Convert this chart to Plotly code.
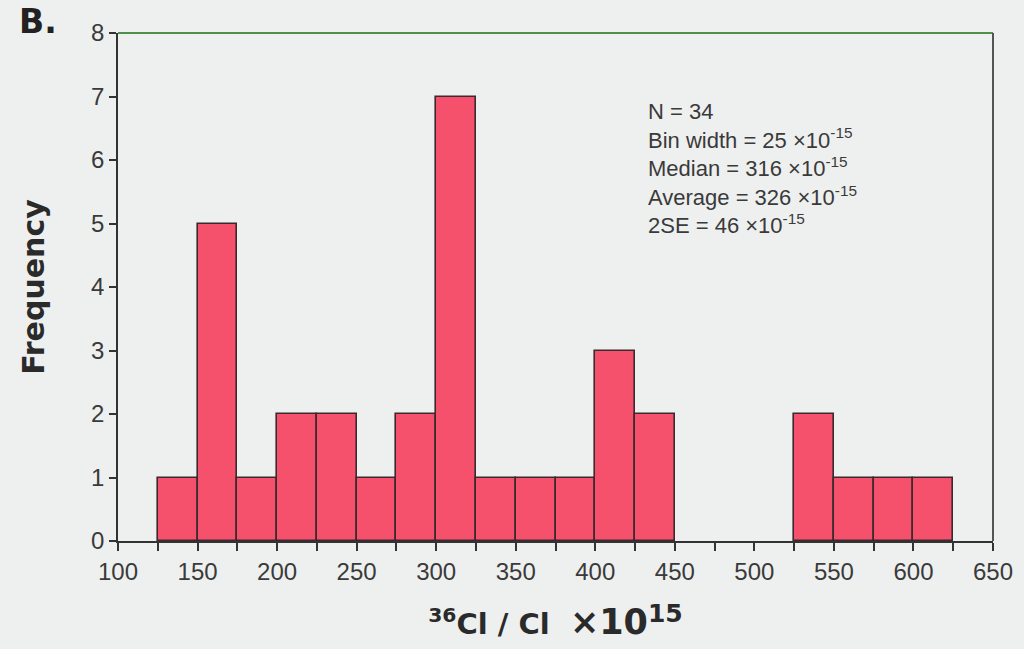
import plotly.graph_objects as go

# Histogram data (bin left edges, bin width 25, counts)
bin_starts = [125, 150, 175, 200, 225, 250, 275, 300, 325, 350, 375, 400, 425, 450, 475, 500, 525, 550, 575, 600]
counts     = [1,   5,   1,   2,   2,   1,   2,   7,   1,   1,   1,   3,   2,   0,   0,   0,   2,   1,   1,   1]
bin_width = 25

stats_lines = [
    "N = 34",
    "Bin width = 25 ×10<sup>-15</sup>",
    "Median = 316 ×10<sup>-15</sup>",
    "Average = 326 ×10<sup>-15</sup>",
    "2SE = 46 ×10<sup>-15</sup>",
]

bg = "#eef0ef"
axis_col = "#333333"

line_widths = [1.6 if c > 0 else 0 for c in counts]

fig = go.Figure()
fig.add_trace(go.Bar(
    x=bin_starts, y=counts, width=[bin_width] * len(bin_starts), offset=0,
    marker=dict(color="#f5506c", line=dict(color="#3a2a2e", width=line_widths)),
    hoverinfo="x+y",
))

annotations = [
    dict(text="<br>".join(stats_lines), xref="x", yref="y", x=432, y=7.0,
         xanchor="left", yanchor="top", align="left", showarrow=False,
         font=dict(family="Liberation Sans, Arial, sans-serif", size=22, color="#3a3a3a")),
    dict(text="<b>B.</b>", xref="paper", yref="paper", x=-0.115, y=1.022,
         xanchor="left", yanchor="middle", showarrow=False,
         font=dict(family="DejaVu Sans, sans-serif", size=33, color="#222222")),
]

fig.update_layout(
    width=1024, height=649,
    margin=dict(l=118, r=31, t=33, b=108),
    paper_bgcolor=bg, plot_bgcolor=bg,
    showlegend=False,
    bargap=0,
    font=dict(family="Liberation Sans, Arial, sans-serif", color=axis_col),
    xaxis=dict(
        range=[100, 650], dtick=50, tick0=100,
        ticks="outside", ticklen=8, tickwidth=1.5, tickcolor=axis_col,
        minor=dict(dtick=25, tick0=100, ticks="outside", ticklen=8, tickwidth=1.5, tickcolor=axis_col, showgrid=False),
        showline=True, linecolor=axis_col, linewidth=1.5,
        showgrid=False, zeroline=False,
        tickfont=dict(size=24, color="#3a3a3a"),
        title=dict(
            text="<b><sup>36</sup>Cl / Cl  <span style='font-size:35px'>×10</span><sup><span style='font-size:25px'>15</span></sup></b>",
            font=dict(family="DejaVu Sans, sans-serif", size=29, color="#2a2a2a"), standoff=30),
    ),
    yaxis=dict(
        range=[0, 8], dtick=1,
        ticks="outside", ticklen=7, tickwidth=1.5, tickcolor=axis_col,
        showline=True, linecolor=axis_col, linewidth=1.5,
        showgrid=False, zeroline=False,
        tickfont=dict(size=24, color="#3a3a3a"),
        title=dict(text="<b>Frequency</b>", font=dict(family="DejaVu Sans, sans-serif", size=30, color="#2a2a2a"), standoff=38),
    ),
    shapes=[
        dict(type="line", xref="paper", yref="paper", x0=0, x1=1, y0=1, y1=1,
             line=dict(color="#4f8f4a", width=2)),
        dict(type="line", xref="paper", yref="paper", x0=1, x1=1, y0=0, y1=1,
             line=dict(color="#555555", width=2)),
    ],
    annotations=annotations,
)

fig.write_html("out.html", config={"displayModeBar": False},
               post_script="document.body.style.margin='0';")
